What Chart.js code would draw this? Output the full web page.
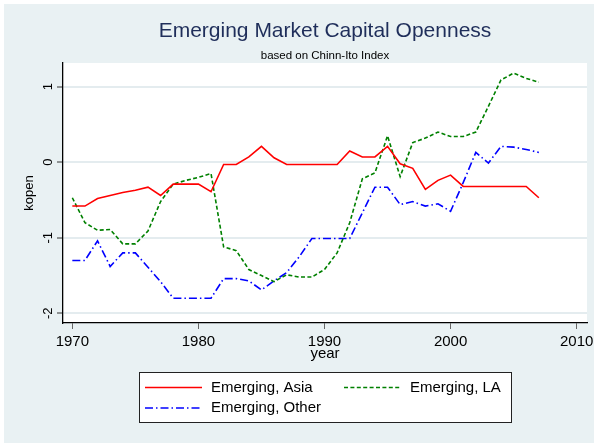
<!DOCTYPE html>
<html>
<head>
<meta charset="utf-8">
<script src="https://cdn.jsdelivr.net/npm/chart.js@4.4.1/dist/chart.umd.min.js"></script>
<style>html,body{margin:0;padding:0;background:#fff}canvas{display:block}</style>
</head>
<body>
<canvas id="c" width="594" height="443"></canvas>
<script>
'use strict';
// Emerging Market Capital Openness — Chinn-Ito index (kopen), 1970-2007, three regional averages.

const YEARS = [1970, 1971, 1972, 1973, 1974, 1975, 1976, 1977, 1978, 1979,
  1980, 1981, 1982, 1983, 1984, 1985, 1986, 1987, 1988, 1989,
  1990, 1991, 1992, 1993, 1994, 1995, 1996, 1997, 1998, 1999,
  2000, 2001, 2002, 2003, 2004, 2005, 2006, 2007];
const ASIA = [-0.58, -0.58, -0.48, -0.44, -0.40, -0.37, -0.33, -0.44, -0.29, -0.29,
  -0.29, -0.39, -0.03, -0.03, 0.07, 0.21, 0.06, -0.03, -0.03, -0.03,
  -0.03, -0.03, 0.15, 0.07, 0.07, 0.21, -0.02, -0.08, -0.36, -0.24,
  -0.17, -0.32, -0.32, -0.32, -0.32, -0.32, -0.32, -0.47];
const LA = [-0.47, -0.80, -0.90, -0.89, -1.08, -1.08, -0.91, -0.52, -0.29, -0.24,
  -0.20, -0.15, -1.12, -1.17, -1.42, -1.50, -1.58, -1.49, -1.52, -1.52,
  -1.42, -1.20, -0.80, -0.22, -0.14, 0.35, -0.19, 0.26, 0.32, 0.40,
  0.34, 0.34, 0.40, 0.74, 1.09, 1.18, 1.11, 1.06];
const OTHER = [-1.30, -1.30, -1.04, -1.38, -1.20, -1.20, -1.39, -1.58, -1.80, -1.80,
  -1.80, -1.80, -1.54, -1.54, -1.57, -1.69, -1.57, -1.46, -1.25, -1.01,
  -1.01, -1.01, -1.01, -0.67, -0.33, -0.33, -0.56, -0.52, -0.58, -0.55,
  -0.65, -0.27, 0.13, -0.01, 0.21, 0.20, 0.17, 0.13];
const SERIES = ['Emerging, Asia', 'Emerging, LA', 'Emerging, Other'];
const XTICKS = [1970, 1980, 1990, 2000, 2010];
const YTICKS = [-2, -1, 0, 1];

const FONT = '"Liberation Sans", Arial, Helvetica, sans-serif';
const BG = '#e9f1f3';
const pts = arr => YEARS.map((y, i) => ({ x: y, y: arr[i] }));
const line = (label, arr, color, dash) => ({
  label, data: pts(arr), borderColor: color, backgroundColor: color,
  borderWidth: 1.6, borderDash: dash, pointRadius: 0, tension: 0, fill: false,
});

// graph region (bluish) + white plot region
const bgPlugin = {
  id: 'bg',
  beforeDraw(chart) {
    const { ctx, chartArea: a, width, height } = chart;
    ctx.save();
    ctx.fillStyle = '#fff'; ctx.fillRect(0, 0, width, height);
    ctx.fillStyle = BG; ctx.fillRect(4, 4, width - 4, height - 4);
    ctx.fillStyle = '#fff'; ctx.fillRect(a.left, a.top, a.right - a.left, a.bottom - a.top);
    ctx.restore();
  },
};

// boxed legend under the plot, two columns (Stata style)
const legendPlugin = {
  id: 'boxLegend',
  afterDraw(chart) {
    const { ctx } = chart;
    const slots = [[145, 387.5], [344, 387.5], [145, 408]];
    ctx.save();
    ctx.fillStyle = '#fff'; ctx.fillRect(139.5, 372.5, 372, 50);
    ctx.strokeStyle = '#222'; ctx.lineWidth = 1; ctx.strokeRect(139.5, 372.5, 372, 50);
    chart.data.datasets.forEach((ds, i) => {
      const [x, y] = slots[i];
      ctx.strokeStyle = ds.borderColor; ctx.lineWidth = ds.borderWidth;
      ctx.setLineDash(ds.borderDash || []);
      ctx.beginPath(); ctx.moveTo(x, y); ctx.lineTo(x + 57, y); ctx.stroke();
      ctx.setLineDash([]);
      ctx.fillStyle = '#000'; ctx.font = `15px ${FONT}`; ctx.textBaseline = 'middle';
      ctx.fillText(ds.label, x + 66, y);
    });
    ctx.restore();
  },
};

new Chart(document.getElementById('c'), {
  type: 'line',
  data: {
    datasets: [
      line(SERIES[0], ASIA, '#ff0000', []),
      line(SERIES[1], LA, '#008000', [4, 2.4]),
      line(SERIES[2], OTHER, '#0000ff', [8, 3, 1.5, 3]),
    ],
  },
  options: {
    responsive: false, animation: false, events: [],
    layout: { padding: { left: 0, right: 7, top: 0, bottom: 0 } },
    plugins: {
      legend: { display: false },
      tooltip: { enabled: false },
      title: {
        display: true, fullSize: false, text: 'Emerging Market Capital Openness', color: '#1f2e5a',
        font: { family: FONT, size: 21, weight: 'normal', lineHeight: 1.2 }, padding: { top: 18.4, bottom: 2.4 },
      },
      subtitle: {
        display: true, fullSize: false, text: 'based on Chinn-Ito Index', color: '#000',
        font: { family: FONT, size: 11.5, weight: 'normal', lineHeight: 1.2 }, padding: { top: 2.6, bottom: 0.6 },
      },
    },
    scales: {
      x: {
        type: 'linear', min: 1969.26, max: 2010.82,
        afterBuildTicks: s => { s.ticks = XTICKS.map(v => ({ value: v })); },
        afterFit: s => { s.height = 120; s.paddingLeft = 0; s.paddingRight = 0; },
        grid: { drawOnChartArea: false, drawTicks: true, tickLength: 6, tickColor: '#666', tickWidth: 1 },
        border: { display: true, color: '#000', width: 1.3 },
        ticks: { color: '#000', padding: 4, maxRotation: 0, font: { family: FONT, size: 15 }, callback: v => String(v) },
        title: { display: true, text: 'year', color: '#000', font: { family: FONT, size: 15, lineHeight: 1.2 }, padding: { top: 0, bottom: 80 } },
      },
      y: {
        type: 'linear', min: -2.128, max: 1.314,
        afterBuildTicks: s => { s.ticks = YTICKS.map(v => ({ value: v })); },
        afterFit: s => { s.width = 63; s.paddingTop = 0; s.paddingBottom = 0; },
        grid: { color: '#e4ecef', lineWidth: 2, drawTicks: true, tickLength: 6, tickColor: '#333', tickWidth: 1 },
        border: { display: true, color: '#000', width: 1.3 },
        ticks: { color: '#000', padding: 3.2, minRotation: 90, maxRotation: 90, crossAlign: 'center', font: { family: FONT, size: 13 }, callback: v => String(v) },
        title: { display: true, text: 'kopen', color: '#000', font: { family: FONT, size: 13, lineHeight: 1.2 }, padding: { top: 21.7, bottom: 0 } },
      },
    },
  },
  plugins: [bgPlugin, legendPlugin],
});
</script>
</body>
</html>
